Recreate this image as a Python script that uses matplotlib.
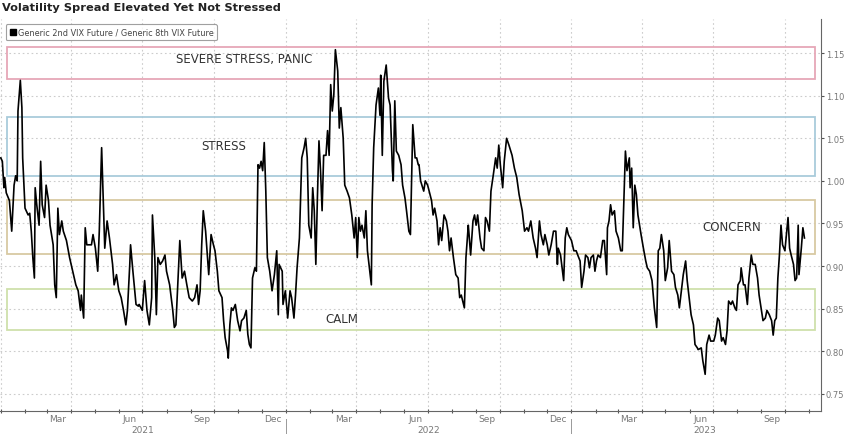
import pandas as pd
import matplotlib
matplotlib.use('Agg')
import matplotlib.pyplot as plt
import matplotlib.dates as mdates
from matplotlib.lines import Line2D
from matplotlib.patches import Rectangle

# days since 2021-01-01 and the 2nd/8th VIX future ratio
start = pd.Timestamp('2021-01-01')
day_offsets = [
    0, 2, 4, 5, 7, 11, 14, 17, 19, 21, 22, 25, 27, 28, 31, 35, 37, 39, 41, 43,
    44, 46, 49, 51, 53, 56, 58, 61, 63, 67, 69, 71, 73, 75, 78, 80, 84, 88, 92, 96,
    99, 102, 103, 106, 108, 110, 116, 118, 121, 124, 126, 129, 131, 133, 136, 139, 143, 145, 148, 151,
    154, 157, 160, 162, 165, 166, 169, 173, 176,
    177, 181, 184, 187, 190, 193, 194, 197, 199, 201, 204, 207, 210, 212, 216, 220, 222, 224, 226, 229,
    232, 235, 238, 241, 245, 248, 251, 253, 255, 257, 259, 262, 265, 266, 269, 272, 274, 277, 279, 283,
    285, 287, 290, 291, 293, 295, 297, 300, 303, 306, 308, 311, 314, 316, 318, 320, 322, 325, 327, 329,
    331, 333, 335, 337, 339, 341, 344, 347, 350, 353, 355,
    356, 360, 361, 364, 367, 370, 372, 375, 377, 379, 382, 385, 388, 390, 392, 394, 397, 399, 401, 403,
    405, 407, 409, 411, 413, 416, 418, 420, 422, 424, 426, 428, 431, 433, 435, 438, 440, 443, 446, 449,
    452, 454, 456, 458, 460, 462, 465, 467, 469, 472, 474, 475, 477, 480, 483, 485, 486, 488, 490, 493,
    496, 498, 501, 502, 504, 506, 509, 512, 514, 517, 519, 522, 524, 525, 527, 530, 532, 534,
    535, 537, 541, 543, 546, 548, 551, 553, 555, 558, 560, 562, 564, 567, 570, 572, 574, 576, 579, 582,
    585, 587, 589, 592, 593, 595, 598, 599, 601, 604, 606, 608, 610, 613, 615, 618, 620, 622, 625, 627,
    630, 633, 635, 637, 639, 642, 644, 647, 650, 654, 657, 660, 663, 667, 670, 673, 675, 678, 681, 684,
    686, 689, 691, 694, 696, 699, 701, 704, 707, 710, 712,
    713, 716, 718, 720, 722, 724, 726, 730, 733, 736, 738, 741, 743, 746, 748, 751, 753, 755, 758, 760,
    762, 764, 767, 770, 772, 775, 776, 778, 780, 782, 785, 787, 790, 793, 795, 797, 799, 801, 804, 805,
    807, 809, 811, 813, 815, 819, 822, 825, 827, 830, 833, 836, 839, 841, 843, 845, 848, 850, 853, 855,
    858, 861, 863, 866, 868, 871, 873, 876, 878, 881, 883, 886, 888, 891,
    892, 896, 898, 901, 903, 906, 908, 912, 914, 917, 919, 922, 924, 927, 929, 931, 934, 936, 939, 941,
    943, 946, 947, 950, 952, 955, 957, 960, 962, 965, 968, 970, 973, 975, 978, 980, 983, 986, 988, 990,
    992, 994, 996, 998, 1000, 1003, 1005, 1007, 1009, 1011, 1014, 1016, 1018, 1020, 1021, 1024, 1026, 1028,
]
spread = [
    1.027, 1.023, 0.992, 1.004, 0.986, 0.977, 0.941, 0.995, 1.006, 1.000, 1.082, 1.118, 1.086, 1.027, 0.968, 0.960, 0.962, 0.941, 0.910, 0.886,
    0.992, 0.972, 0.948, 1.023, 0.972, 0.957, 0.995, 0.977, 0.948, 0.925, 0.878, 0.863, 0.968, 0.937, 0.953, 0.941, 0.930, 0.910, 0.894, 0.878,
    0.871, 0.848, 0.866, 0.839, 0.945, 0.925, 0.925, 0.937, 0.921, 0.894, 0.941, 1.039, 0.980, 0.921, 0.953, 0.933, 0.902, 0.878, 0.890, 0.871,
    0.863, 0.848, 0.831, 0.848, 0.902, 0.925, 0.894, 0.855, 0.853,
    0.855, 0.848, 0.883, 0.848, 0.831, 0.863, 0.960, 0.910, 0.843, 0.910, 0.902, 0.906, 0.913, 0.894, 0.878, 0.848, 0.828, 0.831, 0.871, 0.930,
    0.886, 0.894, 0.878, 0.863, 0.859, 0.863, 0.878, 0.855, 0.871, 0.925, 0.965, 0.941, 0.902, 0.890, 0.937, 0.925, 0.918, 0.894, 0.871, 0.863,
    0.836, 0.816, 0.801, 0.792, 0.831, 0.851, 0.848, 0.855, 0.836, 0.824, 0.836, 0.839, 0.848, 0.820, 0.808, 0.804, 0.886, 0.898, 0.894, 1.019,
    1.015, 1.023, 1.012, 1.045, 0.988, 0.910, 0.894, 0.871, 0.890, 0.918, 0.843,
    0.902, 0.894, 0.855, 0.871, 0.839, 0.871, 0.863, 0.839, 0.866, 0.898, 0.933, 1.027, 1.039, 1.050, 1.027, 0.948, 0.933, 0.992, 0.965, 0.902,
    0.980, 1.047, 1.012, 0.965, 1.030, 1.030, 1.059, 1.030, 1.113, 1.082, 1.101, 1.154, 1.129, 1.062, 1.086, 1.050, 0.995, 0.988, 0.980, 0.960,
    0.933, 0.957, 0.910, 0.957, 0.941, 0.948, 0.933, 0.965, 0.918, 0.894, 0.878, 0.972, 1.039, 1.089, 1.109, 1.077, 1.124, 1.030, 1.117, 1.136,
    1.097, 1.089, 1.012, 1.000, 1.094, 1.035, 1.030, 1.019, 0.995, 0.980, 0.965, 0.941, 0.937, 0.980, 1.066, 1.027, 1.027, 1.019,
    1.019, 1.000, 0.988, 1.000, 0.995, 0.988, 0.977, 0.960, 0.968, 0.953, 0.925, 0.945, 0.930, 0.960, 0.953, 0.941, 0.918, 0.933, 0.910, 0.890,
    0.886, 0.863, 0.866, 0.855, 0.851, 0.910, 0.948, 0.937, 0.913, 0.953, 0.960, 0.948, 0.960, 0.933, 0.921, 0.918, 0.957, 0.953, 0.941, 0.988,
    1.007, 1.027, 1.015, 1.042, 1.019, 0.992, 1.023, 1.050, 1.042, 1.030, 1.015, 1.004, 0.984, 0.965, 0.941, 0.945, 0.941, 0.953, 0.933, 0.921,
    0.910, 0.953, 0.937, 0.925, 0.937, 0.925, 0.913, 0.925, 0.941, 0.941, 0.902,
    0.921, 0.913, 0.898, 0.883, 0.933, 0.945, 0.937, 0.930, 0.918, 0.918, 0.913, 0.906, 0.875, 0.894, 0.913, 0.910, 0.898, 0.910, 0.913, 0.894,
    0.906, 0.913, 0.910, 0.930, 0.930, 0.890, 0.945, 0.953, 0.972, 0.960, 0.965, 0.941, 0.933, 0.918, 0.918, 0.977, 1.035, 1.012, 1.027, 0.992,
    1.015, 0.945, 0.995, 0.984, 0.960, 0.937, 0.921, 0.906, 0.898, 0.894, 0.883, 0.851, 0.828, 0.918, 0.921, 0.937, 0.918, 0.883, 0.898, 0.930,
    0.894, 0.890, 0.875, 0.866, 0.851, 0.875, 0.890, 0.906, 0.883, 0.859, 0.843, 0.831, 0.808, 0.804,
    0.802, 0.804, 0.789, 0.773, 0.808, 0.819, 0.812, 0.812, 0.819, 0.839, 0.836, 0.812, 0.816, 0.808, 0.824, 0.859, 0.855, 0.859, 0.851, 0.848,
    0.878, 0.883, 0.898, 0.878, 0.878, 0.855, 0.886, 0.913, 0.902, 0.902, 0.886, 0.866, 0.848, 0.836, 0.839, 0.848, 0.843, 0.836, 0.819, 0.836,
    0.839, 0.886, 0.913, 0.948, 0.925, 0.918, 0.937, 0.957, 0.921, 0.913, 0.902, 0.883, 0.886, 0.948, 0.890, 0.921, 0.945, 0.933,
]
dates = start + pd.to_timedelta(day_offsets, unit='D')

zone_names = ['SEVERE STRESS, PANIC', 'STRESS', 'CONCERN', 'CALM']
zone_low = [1.120, 1.006, 0.914, 0.825]
zone_high = [1.157, 1.075, 0.978, 0.873]
zone_colors = ['#e6a7b7', '#a9cbdb', '#d8c9a2', '#cfe0ab']
zone_label_x = [0.298, 0.273, 0.891, 0.416]
zone_label_y = [1.144, 1.042, 0.946, 0.838]

years = ['2021', '2022', '2023']
year_label_dates = ['2021-07-01', '2022-07-02', '2023-06-20']
year_breaks = ['2022-01-01', '2023-01-01']

fig = plt.figure(figsize=(8.48, 4.35), dpi=100)
ax = fig.add_axes([0.0, 0.053, 0.968, 0.901])

grey = '#777777'
for lo, hi, col in zip(zone_low, zone_high, zone_colors):
    ax.add_patch(Rectangle((0.0085, lo), 0.984, hi - lo, transform=ax.get_yaxis_transform(),
                           facecolor='none', edgecolor=col, lw=1.3, zorder=2))
for name, lx, ly in zip(zone_names, zone_label_x, zone_label_y):
    ax.text(lx, ly, name, transform=ax.get_yaxis_transform(), ha='center', va='center',
            fontsize=8.5, color='#333333', zorder=3)

ax.plot(dates, spread, color='black', lw=1.2, zorder=4)

ax.set_xlim(pd.Timestamp('2020-12-31'), pd.Timestamp('2023-11-16'))
ax.set_ylim(0.73, 1.19)

ax.yaxis.tick_right()
ax.set_yticks([0.75, 0.80, 0.85, 0.90, 0.95, 1.00, 1.05, 1.10, 1.15])
ax.yaxis.set_major_formatter(matplotlib.ticker.FormatStrFormatter('%.2f'))
ax.tick_params(axis='y', right=True, left=False, length=2.5, width=0.8, color='#555555',
               labelsize=6, labelcolor=grey, pad=1)

ax.xaxis.set_major_locator(mdates.MonthLocator(bymonth=[3, 6, 9, 12], bymonthday=15))
ax.xaxis.set_major_formatter(mdates.DateFormatter('%b'))
ax.xaxis.set_minor_locator(mdates.MonthLocator())
ax.tick_params(axis='x', which='major', length=0, labelsize=6.5, labelcolor=grey, pad=2.5)
ax.tick_params(axis='x', which='minor', length=2.5, width=0.8, color='#555555', direction='inout')

for y in [0.75, 0.80, 0.85, 0.90, 0.95, 1.00, 1.05, 1.10, 1.15]:
    ax.axhline(y, color='#cccccc', lw=0.8, ls=(0, (1.5, 2.5)), zorder=1)
for d in pd.date_range('2021-01-01', '2023-10-01', freq='QS'):
    ax.axvline(d, color='#cccccc', lw=0.8, ls=(0, (1.5, 2.5)), zorder=1)

for spine in ['top', 'left']:
    ax.spines[spine].set_visible(False)
ax.spines['bottom'].set_color('#666666')
ax.spines['right'].set_color('#666666')

for yr, d in zip(years, year_label_dates):
    ax.text(pd.Timestamp(d), -0.047, yr, transform=ax.get_xaxis_transform(), ha='center', va='center',
            fontsize=6.5, color=grey)
for d in year_breaks:
    ax.plot([pd.Timestamp(d)] * 2, [-0.02, -0.06], transform=ax.get_xaxis_transform(),
            color='#999999', lw=0.7, clip_on=False)

handle = Line2D([], [], marker='s', color='black', linestyle='none', markersize=5)
leg = fig.legend([handle], ['Generic 2nd VIX Future / Generic 8th VIX Future'],
                 loc='upper left', bbox_to_anchor=(0.002, 0.952), fontsize=5.9,
                 frameon=True, handletextpad=0.2, borderpad=0.45, handlelength=0.8,
                 labelcolor='#444444', fancybox=True)
leg.get_frame().set_edgecolor('#888888')
leg.get_frame().set_linewidth(0.8)

fig.text(0.002, 0.982, 'Volatility Spread Elevated Yet Not Stressed', fontsize=8.2,
         fontweight='bold', color='#222222', ha='left', va='center')

fig.savefig('out.png', dpi=100, facecolor='white')
